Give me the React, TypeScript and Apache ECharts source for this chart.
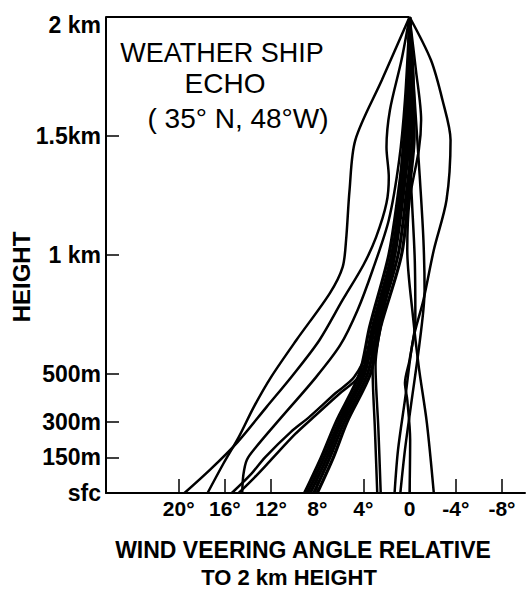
import React, { useEffect, useRef } from "react";
import * as echarts from "echarts";

// Axis ticks / labels
const heightTicks = [0, 150, 300, 500, 1000, 1500, 2000];
const heightLabels = ["sfc", "150m", "300m", "500m", "1 km", "1.5km", "2 km"];
const angleTicks = [20, 16, 12, 8, 4, 0, -4, -8];
const angleLabels = ["20°", "16°", "12°", "8°", "4°", "0", "-4°", "-8°"];

// Individual veering profiles: angle (deg, relative to 2 km) vs height (m)
const profileA_h = [0, 97, 214, 361, 496, 643, 811, 958, 1075, 1218, 1327, 1453, 1609, 1819, 2000];
const profileA_a = [19.5, 17.3, 14.9, 12.4, 10.1, 7.8, 5.8, 4.0, 2.9, 2.0, 1.8, 2.0, 1.7, 0.7, 0];

const profileB_h = [0, 126, 235, 361, 487, 643, 840, 949, 1063, 1273, 1483, 1735, 2000];
const profileB_a = [17.5, 16.1, 14.8, 13.5, 12.0, 9.8, 6.9, 5.8, 5.5, 5.2, 4.7, 2.4, 0];

const profileC_h = [0, 76, 151, 256, 319, 420, 487, 622, 811, 1021, 1357, 1693, 2000];
const profileC_a = [15.4, 13.8, 12.5, 10.3, 8.7, 6.4, 4.8, 3.4, 2.4, 1.4, 0.6, 0.2, 0];

const profileC2_h = [0, 67, 134, 248, 315, 416, 483, 601, 811, 1021, 1357, 1693, 2000];
const profileC2_a = [14.8, 13.4, 12.1, 9.9, 8.4, 6.1, 4.5, 3.3, 2.1, 1.2, 0.5, 0.1, 0];

const profileD_h = [0, 76, 139, 193, 307, 487, 622, 769, 937, 1147, 1399, 1651, 2000];
const profileD_a = [14.5, 14.4, 14.1, 13.3, 11.3, 8.1, 6.0, 4.5, 3.2, 1.8, 0.9, 0.4, 0];

const bandHeights = [0, 150, 300, 500, 700, 1000, 1250, 1500, 1750, 2000];
const band1_a = [8.0, 6.6, 5.4, 3.4, 2.5, 0.7, 0.1, -0.4, -0.3, 0];
const band2_a = [8.3, 6.9, 5.65, 3.65, 2.75, 1.0, 0.3, -0.2, -0.2, 0];
const band3_a = [8.6, 7.15, 5.9, 3.9, 3.0, 1.3, 0.55, 0.0, -0.1, 0];
const band4_a = [8.85, 7.4, 6.1, 4.1, 3.2, 1.55, 0.75, 0.2, 0.0, 0];
const band5_a = [9.1, 7.65, 6.35, 4.35, 3.45, 1.8, 1.0, 0.4, 0.1, 0];

const profileF1_h = [0, 265, 517, 685, 895, 1105, 1441, 1735, 2000];
const profileF1_a = [2.8, 3.0, 3.2, 2.7, 2.0, 1.2, 0.6, 0.2, 0];
const profileF2_h = [0, 265, 538, 727, 937, 1189, 1525, 2000];
const profileF2_a = [2.5, 2.7, 2.95, 2.4, 1.6, 0.9, 0.3, 0];

const profileR1_h = [0, 181, 391, 643, 811, 1021, 1231, 1483, 1651, 1819, 2000];
const profileR1_a = [1.3, 1.0, 0.4, -0.3, -1.2, -2.1, -3.2, -3.55, -2.85, -1.85, 0];
const profileR2_h = [0, 294, 529, 739, 1021, 1231, 1441, 1567, 1777, 2000];
const profileR2_a = [-2.1, -1.5, -0.8, -0.3, 0.2, 0, -0.8, -1.0, -0.55, 0];
const profileR3_h = [0, 223, 391, 462, 559, 727, 979, 1231, 1483, 2000];
const profileR3_a = [0, -0.05, 0.2, 0.4, 0, -0.5, -0.45, -0.2, 0.05, 0];
const profileR4_h = [0, 181, 361, 643, 853, 1063, 1315, 1609, 2000];
const profileR4_a = [0.8, 0.4, -0.1, -0.9, -1.3, -1.2, -0.9, -0.5, 0];

const profiles: [number[], number[], number][] = [
  [profileA_a, profileA_h, 2.5],
  [profileB_a, profileB_h, 2.5],
  [profileC_a, profileC_h, 2.5],
  [profileC2_a, profileC2_h, 2.5],
  [profileD_a, profileD_h, 2.5],
  [band1_a, bandHeights, 3.2],
  [band2_a, bandHeights, 3.2],
  [band3_a, bandHeights, 3.2],
  [band4_a, bandHeights, 3.2],
  [band5_a, bandHeights, 3.2],
  [profileF1_a, profileF1_h, 2.5],
  [profileF2_a, profileF2_h, 2.5],
  [profileR1_a, profileR1_h, 2.5],
  [profileR2_a, profileR2_h, 2.5],
  [profileR3_a, profileR3_h, 2.5],
  [profileR4_a, profileR4_h, 2.5],
];

const FONT = "Liberation Sans";

export default function App() {
  const ref = useRef<HTMLDivElement>(null);
  useEffect(() => {
    if (!ref.current) return;
    const chart = echarts.init(ref.current, null, { renderer: "svg" });
    const series: any[] = profiles.map(([a, h, w], i) => ({
      type: "line",
      data: a.map((v, j) => [v, h[j]]),
      showSymbol: false,
      smooth: 0.3,
      lineStyle: { color: "#000", width: w },
      silent: true,
      markLine:
        i === 0
          ? {
              silent: true,
              symbol: ["none", "none"],
              label: { show: false },
              lineStyle: { color: "#000", width: 2, type: "solid" },
              data: [[{ coord: [26.3, 2000] }, { coord: [0, 2000] }]],
            }
          : undefined,
    }));
    chart.setOption({
      animation: false,
      backgroundColor: "#fff",
      grid: { left: 106, top: 17, right: 3, bottom: 98 },
      xAxis: {
        type: "value",
        inverse: true,
        min: -10,
        max: 26.3,
        axisLine: { show: true, onZero: false, lineStyle: { color: "#000", width: 2 } },
        axisTick: {
          show: true,
          inside: true,
          length: 14,
          customValues: angleTicks,
          lineStyle: { color: "#000", width: 1.5 },
        },
        axisLabel: {
          show: true,
          customValues: angleTicks,
          margin: 5,
          color: "#000",
          fontFamily: FONT,
          fontWeight: "bold",
          fontSize: 21,
          formatter: (v: number) => {
            const i = angleTicks.indexOf(Math.round(v));
            return i >= 0 ? angleLabels[i] : "";
          },
        },
        splitLine: { show: false },
      },
      yAxis: {
        type: "value",
        min: 0,
        max: 2000,
        axisLine: { show: true, onZero: false, lineStyle: { color: "#000", width: 2 } },
        axisTick: {
          show: true,
          inside: true,
          length: 13,
          customValues: heightTicks,
          lineStyle: { color: "#000", width: 1.5 },
        },
        axisLabel: {
          show: true,
          customValues: heightTicks,
          margin: 5,
          color: "#000",
          fontFamily: FONT,
          fontWeight: "bold",
          fontSize: 23,
          formatter: (v: number) => {
            const i = heightTicks.indexOf(Math.round(v));
            if (i < 0) return "";
            return v >= 2000 ? "{top|" + heightLabels[i] + "}" : heightLabels[i];
          },
          rich: {
            top: {
              padding: [16, 0, 0, 0],
              color: "#000",
              fontFamily: FONT,
              fontWeight: "bold",
              fontSize: 23,
            },
          },
        },
        splitLine: { show: false },
      },
      graphic: [
        {
          type: "text",
          x: 21,
          y: 277,
          rotation: Math.PI / 2,
          style: {
            text: "HEIGHT",
            fill: "#000",
            font: `bold 24px '${FONT}'`,
            textAlign: "center",
            textVerticalAlign: "middle",
          },
        },
        {
          type: "text",
          x: 222,
          y: 53,
          style: {
            text: "WEATHER SHIP",
            fill: "#000",
            font: `27px '${FONT}'`,
            textAlign: "center",
            textVerticalAlign: "middle",
          },
        },
        {
          type: "text",
          x: 225,
          y: 83,
          style: {
            text: "ECHO",
            fill: "#000",
            font: `28px '${FONT}'`,
            textAlign: "center",
            textVerticalAlign: "middle",
          },
        },
        {
          type: "text",
          x: 238,
          y: 118,
          style: {
            text: "( 35° N, 48°W)",
            fill: "#000",
            font: `28px '${FONT}'`,
            textAlign: "center",
            textVerticalAlign: "middle",
          },
        },
        {
          type: "text",
          x: 303,
          y: 550,
          style: {
            text: "WIND VEERING ANGLE RELATIVE",
            fill: "#000",
            font: `bold 23px '${FONT}'`,
            textAlign: "center",
            textVerticalAlign: "middle",
          },
        },
        {
          type: "text",
          x: 289,
          y: 577,
          style: {
            text: "TO 2 km HEIGHT",
            fill: "#000",
            font: `bold 22px '${FONT}'`,
            textAlign: "center",
            textVerticalAlign: "middle",
          },
        },
      ],
      series,
    });
    return () => chart.dispose();
  }, []);
  return (
    <div
      ref={ref}
      style={{ position: "fixed", left: 0, top: 0, width: 528, height: 591, background: "#fff" }}
    />
  );
}
